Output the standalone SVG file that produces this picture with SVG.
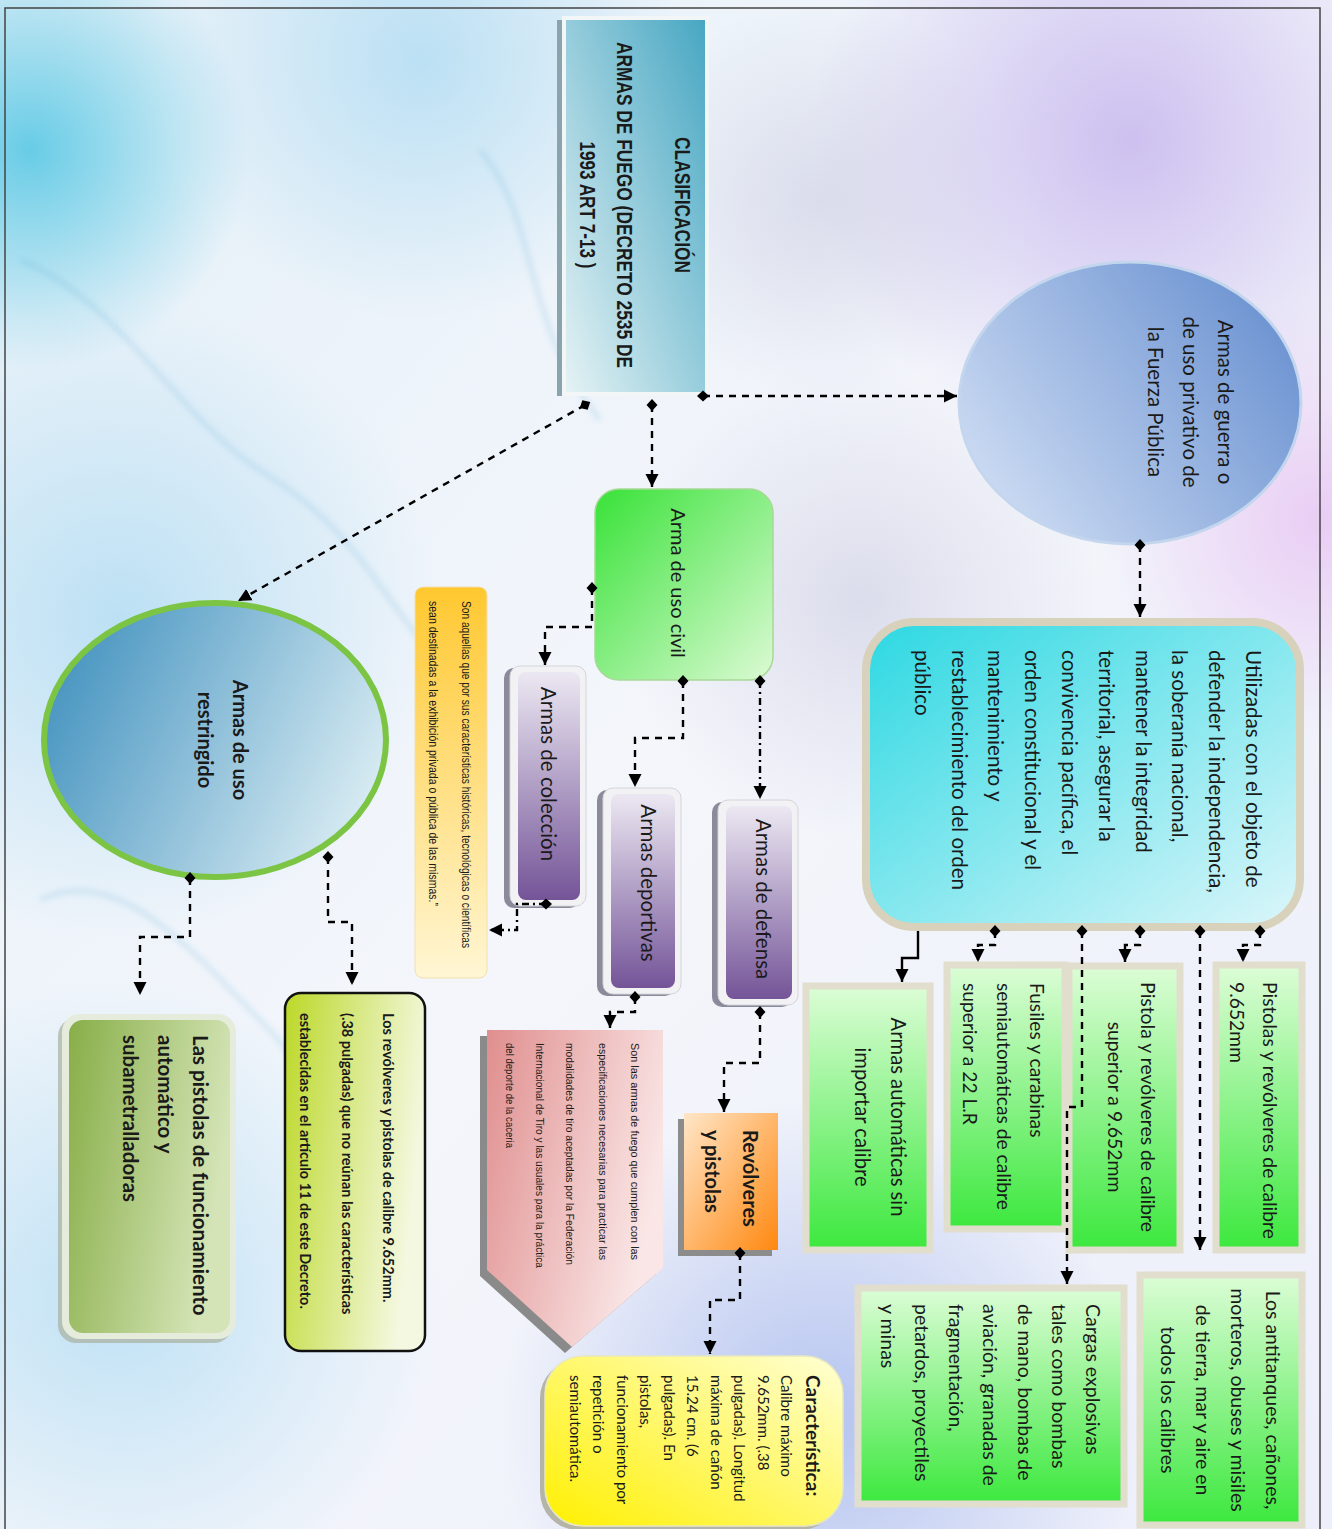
<svg xmlns="http://www.w3.org/2000/svg" width="1332" height="1529" viewBox="0 0 1332 1529">
<defs>
<style>
.t{font-family:Lato,"Open Sans","Noto Sans",sans-serif;fill:#1a1a1a;}
.n{font-family:"Liberation Sans Narrow","Liberation Sans",Arial,sans-serif;fill:#1a1a1a;}
.b{font-weight:bold;}
.c{fill:none;stroke:#000;stroke-width:2.4;stroke-dasharray:7 6;marker-start:url(#dia);marker-end:url(#arr);}
.dd{stroke-dasharray:7 4 2 4;}
.gb{stroke:#e2dece;stroke-width:7;fill:url(#gGreen);}
</style>
<marker id="dia" viewBox="-7 -7 14 14" refX="0" refY="0" markerWidth="14" markerHeight="14" orient="auto" markerUnits="userSpaceOnUse"><path d="M-6 0L0-5.5L6 0L0 5.5Z" fill="#000"/></marker>
<marker id="arr" viewBox="0 -7 13 14" refX="13" refY="0" markerWidth="13" markerHeight="14" orient="auto" markerUnits="userSpaceOnUse"><path d="M0-6.5L13 0L0 6.5Z" fill="#000"/></marker>
<linearGradient id="gBg" x1="0" y1="0" x2="1" y2="1"><stop offset="0" stop-color="#e4f0f8"/><stop offset="0.5" stop-color="#f4f6fb"/><stop offset="1" stop-color="#eceefa"/></linearGradient>
<radialGradient id="bCyan"><stop offset="0" stop-color="#3ec0e0" stop-opacity="0.75"/><stop offset="1" stop-color="#3ec0e0" stop-opacity="0"/></radialGradient>
<radialGradient id="bLb"><stop offset="0" stop-color="#9cd4f0" stop-opacity="0.6"/><stop offset="1" stop-color="#9cd4f0" stop-opacity="0"/></radialGradient>
<radialGradient id="bPu"><stop offset="0" stop-color="#b49ce8" stop-opacity="0.6"/><stop offset="1" stop-color="#b49ce8" stop-opacity="0"/></radialGradient>
<radialGradient id="bPk"><stop offset="0" stop-color="#e4b4f0" stop-opacity="0.6"/><stop offset="1" stop-color="#e4b4f0" stop-opacity="0"/></radialGradient>
<radialGradient id="bBl"><stop offset="0" stop-color="#8ca4e8" stop-opacity="0.6"/><stop offset="1" stop-color="#8ca4e8" stop-opacity="0"/></radialGradient>
<radialGradient id="bGr"><stop offset="0" stop-color="#c4c4dc" stop-opacity="0.5"/><stop offset="1" stop-color="#c4c4dc" stop-opacity="0"/></radialGradient>
<linearGradient id="gClas" x1="1" y1="0" x2="0" y2="1"><stop offset="0" stop-color="#46a6c2"/><stop offset="1" stop-color="#e6f3f5"/></linearGradient>
<linearGradient id="gGuerra" x1="0" y1="0.8" x2="1" y2="0.2"><stop offset="0" stop-color="#d0def4"/><stop offset="1" stop-color="#6890d0"/></linearGradient>
<linearGradient id="gCivil" x1="0" y1="0" x2="1" y2="1"><stop offset="0" stop-color="#38e238"/><stop offset="1" stop-color="#dcfad4"/></linearGradient>
<linearGradient id="gCyan" x1="0" y1="0" x2="1" y2="1"><stop offset="0" stop-color="#2cd8e2"/><stop offset="1" stop-color="#dcf6fa"/></linearGradient>
<linearGradient id="gGreen" x1="0" y1="0" x2="0" y2="1"><stop offset="0" stop-color="#dcfdd6"/><stop offset="1" stop-color="#3ce83e"/></linearGradient>
<linearGradient id="gPurple" x1="0" y1="0" x2="0" y2="1"><stop offset="0" stop-color="#ece8f2"/><stop offset="1" stop-color="#745498"/></linearGradient>
<linearGradient id="gYel" x1="0" y1="0" x2="0" y2="1"><stop offset="0" stop-color="#ffc830"/><stop offset="1" stop-color="#fff6d4"/></linearGradient>
<linearGradient id="gPink" x1="0" y1="0" x2="1" y2="0.4"><stop offset="0" stop-color="#e08e8e"/><stop offset="1" stop-color="#fae6e6"/></linearGradient>
<linearGradient id="gOr" x1="0" y1="0" x2="1" y2="1"><stop offset="0" stop-color="#ffe6c8"/><stop offset="1" stop-color="#ff8810"/></linearGradient>
<linearGradient id="gCar" x1="1" y1="0" x2="0" y2="1"><stop offset="0" stop-color="#ffffd4"/><stop offset="1" stop-color="#fff000"/></linearGradient>
<linearGradient id="gLime" x1="0" y1="0" x2="1" y2="0.3"><stop offset="0" stop-color="#bcd828"/><stop offset="1" stop-color="#f4f8e0"/></linearGradient>
<linearGradient id="gOlive" x1="0" y1="0" x2="1" y2="0.3"><stop offset="0" stop-color="#88ae48"/><stop offset="1" stop-color="#d4e4b6"/></linearGradient>
<linearGradient id="gRest" x1="0" y1="0.3" x2="1" y2="0.7"><stop offset="0" stop-color="#4694c0"/><stop offset="1" stop-color="#dceef4"/></linearGradient>
<filter id="blur" x="-20%" y="-20%" width="140%" height="140%"><feGaussianBlur stdDeviation="3"/></filter>
</defs>

<g id="background">
<rect x="0" y="0" width="1332" height="1529" fill="url(#gBg)"/>
<circle cx="30" cy="150" r="220" fill="url(#bCyan)"/>
<circle cx="120" cy="620" r="320" fill="url(#bLb)"/>
<circle cx="120" cy="1300" r="320" fill="url(#bLb)"/>
<circle cx="420" cy="60" r="260" fill="url(#bLb)"/>
<circle cx="1130" cy="140" r="320" fill="url(#bPu)"/>
<circle cx="1320" cy="520" r="220" fill="url(#bPk)"/>
<circle cx="820" cy="1420" r="320" fill="url(#bBl)"/>
<circle cx="860" cy="600" r="240" fill="url(#bGr)"/>
<circle cx="820" cy="200" r="200" fill="url(#bGr)"/>
<g fill="none" stroke="#62acd6" stroke-width="3" opacity="0.35" filter="url(#blur)">
<path d="M20 260 C120 300 180 420 260 470 S360 560 420 640"/>
<path d="M40 900 C120 860 200 960 260 1020 S330 1120 300 1250"/>
<path d="M480 150 C540 220 520 320 600 420"/>
</g>
<rect x="5" y="8" width="1315" height="1530" fill="none" stroke="#444" stroke-width="1.5"/>
</g>

<g id="n-clasificacion">
<rect x="557" y="20" width="8" height="376" fill="#8aa4ae"/>
<rect x="564" y="18" width="143" height="376" fill="url(#gClas)" stroke="#f2f6f6" stroke-width="4"/>
<g transform="translate(675,205) rotate(90)" class="n b" font-size="22" text-anchor="middle">
<text x="0" y="0" textLength="136" lengthAdjust="spacingAndGlyphs">CLASIFICACIÓN</text>
<text x="0" y="58" textLength="326" lengthAdjust="spacingAndGlyphs">ARMAS DE FUEGO (DECRETO 2535 DE</text>
<text x="0" y="95" textLength="127" lengthAdjust="spacingAndGlyphs">1993 ART 7-13 )</text>
</g>
</g>

<g id="n-guerra">
<ellipse cx="1130" cy="403" rx="171" ry="141" fill="url(#gGuerra)" stroke="#c4d6ee" stroke-width="3"/>
<g transform="translate(1218,402) rotate(90)" class="t" font-size="20.5" text-anchor="middle">
<text x="0" y="0">Armas de guerra o</text>
<text x="0" y="35">de uso privativo de</text>
<text x="0" y="70">la Fuerza Pública</text>
</g>
</g>

<g id="n-civil">
<rect x="595" y="489" width="178" height="191" rx="24" fill="url(#gCivil)" stroke="#a8d898" stroke-width="1.5"/>
<g transform="translate(671,583) rotate(90)" class="t" font-size="20" text-anchor="middle"><text x="0" y="0">Arma de uso civil</text></g>
</g>

<g id="n-utilizadas">
<rect x="866" y="622" width="434" height="305" rx="48" fill="url(#gCyan)" stroke="#d8d2bc" stroke-width="8"/>
<g transform="translate(1246,650) rotate(90)" class="t" font-size="20.6">
<text x="0" y="0">Utilizadas con el objeto de</text>
<text x="0" y="36.8">defender la independencia,</text>
<text x="0" y="73.6">la soberanía nacional,</text>
<text x="0" y="110.4">mantener la integridad</text>
<text x="0" y="147.2">territorial, asegurar la</text>
<text x="0" y="184">convivencia pacífica, el</text>
<text x="0" y="220.8">orden constitucional y el</text>
<text x="0" y="257.6">mantenimiento y</text>
<text x="0" y="294.4">restablecimiento del orden</text>
<text x="0" y="331.2">público</text>
</g>
</g>

<g id="n-pistolas">
<rect class="gb" x="1216" y="965" width="86" height="285"/>
<g transform="translate(1263,982) rotate(90)" class="t" font-size="19.3">
<text x="0" y="0">Pistolas y revólveres de calibre</text>
<text x="0" y="33">9.652mm</text>
</g>
</g>

<g id="n-fusiles">
<rect class="gb" x="947" y="965" width="118" height="264"/>
<g transform="translate(1030,983) rotate(90)" class="t" font-size="19.2">
<text x="0" y="0">Fusiles y carabinas</text>
<text x="0" y="33.5">semiautomáticas de calibre</text>
<text x="0" y="67">superior a 22 L.R</text>
</g>
</g>

<g id="n-pistola-sup">
<rect class="gb" x="1069" y="966" width="111" height="284"/>
<g transform="translate(1141,1107) rotate(90)" class="t" font-size="19.4" text-anchor="middle">
<text x="0" y="0">Pistola y revólveres de calibre</text>
<text x="0" y="33">superior a 9.652mm</text>
</g>
</g>

<g id="n-automaticas">
<rect class="gb" x="806" y="986" width="124" height="264"/>
<g transform="translate(891,1117) rotate(90)" class="t" font-size="20.2" text-anchor="middle">
<text x="0" y="0">Armas automáticas sin</text>
<text x="0" y="36">importar calibre</text>
</g>
</g>

<g id="n-antitanques">
<rect class="gb" x="1140" y="1275" width="162" height="250"/>
<g transform="translate(1266,1400) rotate(90)" class="t" font-size="19.5" text-anchor="middle">
<text x="0" y="0">Los antitanques, cañones,</text>
<text x="0" y="35">morteros, obuses y misiles</text>
<text x="0" y="70">de tierra, mar y aire en</text>
<text x="0" y="105">todos los calibres</text>
</g>
</g>

<g id="n-cargas">
<rect class="gb" x="858" y="1288" width="266" height="216"/>
<g transform="translate(1086,1304) rotate(90)" class="t" font-size="19.5">
<text x="0" y="0">Cargas explosivas</text>
<text x="0" y="34.2">tales como bombas</text>
<text x="0" y="68.4">de mano, bombas de</text>
<text x="0" y="102.6">aviación, granadas de</text>
<text x="0" y="136.8">fragmentación,</text>
<text x="0" y="171">petardos, proyectiles</text>
<text x="0" y="205.2">y minas</text>
</g>
</g>

<g id="n-coleccion">
<rect x="504" y="668" width="76" height="240" rx="10" fill="#8a8a9a"/>
<rect x="510" y="666" width="76" height="240" rx="10" fill="#f2f2f5" stroke="#d4d4da" stroke-width="1"/>
<rect x="518" y="672" width="62" height="228" rx="8" fill="url(#gPurple)"/>
<g transform="translate(541,774) rotate(90)" class="t" font-size="20.5" text-anchor="middle"><text x="0" y="0">Armas de colección</text></g>
</g>

<g id="n-deportivas">
<rect x="597" y="790" width="78" height="206" rx="10" fill="#8a8a9a"/>
<rect x="603" y="788" width="78" height="206" rx="10" fill="#f2f2f5" stroke="#d4d4da" stroke-width="1"/>
<rect x="611" y="794" width="64" height="194" rx="8" fill="url(#gPurple)"/>
<g transform="translate(641,883) rotate(90)" class="t" font-size="20.5" text-anchor="middle"><text x="0" y="0">Armas deportivas</text></g>
</g>

<g id="n-defensa">
<rect x="712" y="802" width="80" height="205" rx="10" fill="#8a8a9a"/>
<rect x="718" y="800" width="80" height="205" rx="10" fill="#f2f2f5" stroke="#d4d4da" stroke-width="1"/>
<rect x="726" y="806" width="66" height="193" rx="8" fill="url(#gPurple)"/>
<g transform="translate(756,899) rotate(90)" class="t" font-size="20.5" text-anchor="middle"><text x="0" y="0">Armas de defensa</text></g>
</g>

<g id="n-son-aquellas">
<rect x="415" y="587" width="72" height="391" rx="8" fill="url(#gYel)" stroke="#f0e0b0" stroke-width="1"/>
<g transform="translate(462,601) rotate(90)" class="n" font-size="12">
<text x="0" y="0" textLength="347" lengthAdjust="spacingAndGlyphs">Son aquellas que por sus características históricas, tecnológicas o científicas</text>
<text x="0" y="33" textLength="305" lengthAdjust="spacingAndGlyphs">sean destinadas a la exhibición privada o pública de las mismas.”</text>
</g>
</g>

<g id="n-son-las-armas">
<polygon points="480,1036 656,1036 656,1274 565,1353 480,1276" fill="#8a8a8a"/>
<polygon points="487,1030 663,1030 663,1268 572,1347 487,1270" fill="url(#gPink)"/>
<g transform="translate(631,1043) rotate(90)" class="n" font-size="11">
<text x="0" y="0" textLength="217" lengthAdjust="spacingAndGlyphs">Son las armas de fuego que cumplen con las</text>
<text x="0" y="32" textLength="217" lengthAdjust="spacingAndGlyphs">especificaciones necesarias para practicar las</text>
<text x="0" y="65" textLength="222" lengthAdjust="spacingAndGlyphs">modalidades de tiro aceptadas por la Federación</text>
<text x="0" y="95" textLength="225" lengthAdjust="spacingAndGlyphs">Internacional de Tiro y las usuales para la práctica</text>
<text x="0" y="125" textLength="105" lengthAdjust="spacingAndGlyphs">del deporte de la caceria</text>
</g>
</g>

<g id="n-revolveres">
<rect x="678" y="1119" width="94" height="137" fill="#8c8c8c"/>
<rect x="684" y="1113" width="94" height="137" fill="url(#gOr)"/>
<g transform="translate(743,1130) rotate(90)" class="t b" font-size="20">
<text x="0" y="0">Revólveres</text>
<text x="0" y="38">y pistolas</text>
</g>
</g>

<g id="n-caracteristica">
<rect x="540" y="1360" width="298" height="170" rx="38" fill="#b4b4a8"/>
<rect x="545" y="1356" width="298" height="170" rx="38" fill="url(#gCar)" stroke="#e8e8c0" stroke-width="1.5"/>
<g transform="translate(806,1375) rotate(90)" class="t">
<text x="0" y="0" font-size="19" class="b">Característica:</text>
<g font-size="15">
<text x="0" y="25">Calibre máximo</text>
<text x="0" y="48.5">9.652mm. (.38</text>
<text x="0" y="72">pulgadas). Longitud</text>
<text x="0" y="95.5">máxima de cañón</text>
<text x="0" y="119">15.24 cm. (6</text>
<text x="0" y="142.5">pulgadas). En</text>
<text x="0" y="166">pistolas,</text>
<text x="0" y="189.5">funcionamiento por</text>
<text x="0" y="213">repetición o</text>
<text x="0" y="236.5">semiautomática.</text>
</g>
</g>
</g>

<g id="n-restringido">
<ellipse cx="215" cy="740" rx="171" ry="137" fill="url(#gRest)" stroke="#7cc444" stroke-width="6"/>
<g transform="translate(233,740) rotate(90)" class="t b" font-size="20" text-anchor="middle">
<text x="0" y="0">Armas de uso</text>
<text x="0" y="35">restringido</text>
</g>
</g>

<g id="n-revolveres-pistolas-calibre">
<rect x="285" y="993" width="140" height="358" rx="16" fill="url(#gLime)" stroke="#111" stroke-width="2.5"/>
<g transform="translate(383,1013) rotate(90)" class="t b" font-size="14.5">
<text x="0" y="0">Los revólveres y pistolas de calibre 9.652mm.</text>
<text x="0" y="41">(.38 pulgadas) que no reúnan las características</text>
<text x="0" y="83">establecidas en el artículo 11 de este Decreto.</text>
</g>
</g>

<g id="n-pistolas-automatico">
<rect x="58" y="1018" width="174" height="325" rx="18" fill="#a8b0a0" opacity="0.7"/>
<rect x="62" y="1014" width="174" height="325" rx="18" fill="#e6ecdc"/>
<rect x="69" y="1020" width="161" height="313" rx="14" fill="url(#gOlive)"/>
<g transform="translate(193,1035) rotate(90)" class="t b" font-size="20.5">
<text x="0" y="0">Las pistolas de funcionamiento</text>
<text x="0" y="35">automático y</text>
<text x="0" y="70">subametralladoras</text>
</g>
</g>

<g id="connectors">
<path class="c" d="M703,396 H957"/>
<path class="c" d="M652,405 V487"/>
<path class="c" d="M585,405 L238,601"/>
<path class="c" d="M1140,545 V617"/>
<path class="c" d="M1260,931 V945 H1243 V962"/>
<path class="c" d="M1200,931 V1250"/>
<path class="c" d="M1140,931 V945 H1125 V962"/>
<path class="c" d="M1082,931 V1107 H1067 V1284"/>
<path class="c" d="M995,931 V945 H978 V962"/>
<path d="M918,931 V958 H902 V982" fill="none" stroke="#000" stroke-width="2.4" marker-end="url(#arr)"/>
<path class="c" d="M592,588 V627 H545 V665"/>
<path class="c" d="M683,681 V738 H635 V787"/>
<path class="c dd" d="M760,681 V799"/>
<path class="c dd" d="M546,904 H517 V930 H489"/>
<path class="c" d="M635,997 V1012 H610 V1028"/>
<path class="c" d="M760,1012 V1063 H724 V1112"/>
<path class="c" d="M740,1253 V1300 H710 V1354"/>
<path class="c" d="M190,878 V937 H140 V995"/>
<path class="c" d="M328,857 V922 H352 V985"/>
</g>
</svg>
